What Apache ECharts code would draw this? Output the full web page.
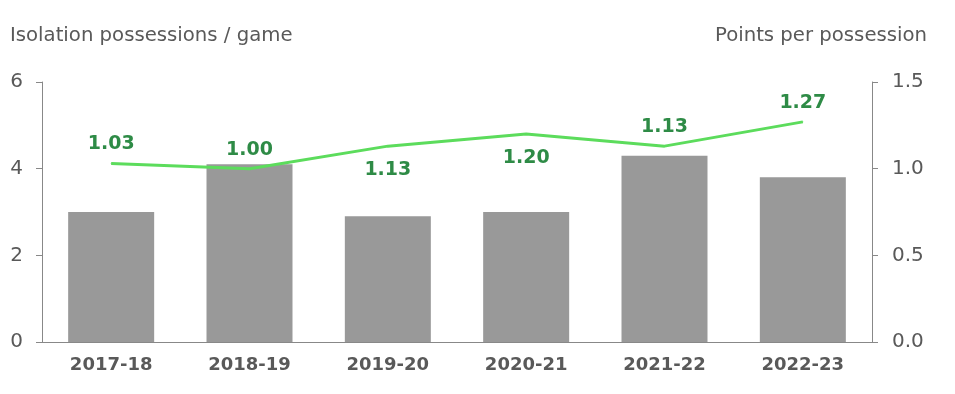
<!DOCTYPE html>
<html><head><meta charset="utf-8">
<script src="https://cdn.jsdelivr.net/npm/echarts@6/dist/echarts.min.js"></script>
<style>html,body{margin:0;padding:0;background:#fff}#c{width:955px;height:394px}</style>
</head><body><div id="c"></div>
<script>
const categories = ['2017-18','2018-19','2019-20','2020-21','2021-22','2022-23'];
const isoPossessions = [3.0, 4.1, 2.9, 3.0, 4.3, 3.8];
const pointsPerPossession = [1.03, 1.00, 1.13, 1.20, 1.13, 1.27];
const labelPositions = ['top','top','bottom','bottom','top','top'];
const leftTicks = [0, 2, 4, 6];
const rightTicks = [0.0, 0.5, 1.0, 1.5];

const FONT = 'DejaVu Sans';
const chart = echarts.init(document.getElementById('c'));
chart.setOption({
  animation: false,
  grid: {left: 42, right: 83, top: 82, bottom: 52},
  xAxis: {
    type: 'category', data: categories,
    axisLine: {lineStyle: {color: '#888', width: 1}},
    axisTick: {show: false},
    axisLabel: {color: '#595959', fontFamily: FONT, fontWeight: 'bold', fontSize: 18, margin: 14}
  },
  yAxis: [{
    type: 'value', min: leftTicks[0], max: leftTicks[leftTicks.length-1], interval: 2,
    name: 'Isolation possessions / game', nameLocation: 'end', nameGap: 36,
    nameTextStyle: {align: 'left', padding: [0,0,0,-32], color: '#595959', fontFamily: FONT, fontSize: 19.7},
    axisLine: {show: true, lineStyle: {color: '#888'}},
    axisTick: {show: true, length: 6, lineStyle: {color: '#888'}},
    splitLine: {show: false},
    axisLabel: {color: '#595959', fontFamily: FONT, fontSize: 20, margin: 19}
  }, {
    type: 'value', min: rightTicks[0], max: rightTicks[rightTicks.length-1], interval: 0.5,
    name: 'Points per possession', nameLocation: 'end', nameGap: 36,
    nameTextStyle: {align: 'right', padding: [0,-55,0,0], color: '#595959', fontFamily: FONT, fontSize: 19.7},
    axisLine: {show: true, lineStyle: {color: '#888'}},
    axisTick: {show: true, length: 6, lineStyle: {color: '#888'}},
    splitLine: {show: false},
    axisLabel: {color: '#595959', fontFamily: FONT, fontSize: 20, margin: 20, formatter: v => v.toFixed(1)}
  }],
  series: [{
    type: 'bar', data: isoPossessions, yAxisIndex: 0, barWidth: 86,
    itemStyle: {color: '#999999'}
  }, {
    type: 'line', yAxisIndex: 1, showSymbol: true, symbol: 'circle', symbolSize: 1,
    itemStyle: {color: '#5cdc5c'},
    lineStyle: {color: '#5cdc5c', width: 3},
    data: pointsPerPossession.map((v, i) => ({
      value: v,
      label: {show: true, position: labelPositions[i], distance: labelPositions[i] === 'top' ? 9 : 14,
        formatter: p => p.value.toFixed(2),
        color: '#2e8b46', fontFamily: FONT, fontWeight: 'bold', fontSize: 19}
    }))
  }]
});
</script></body></html>
